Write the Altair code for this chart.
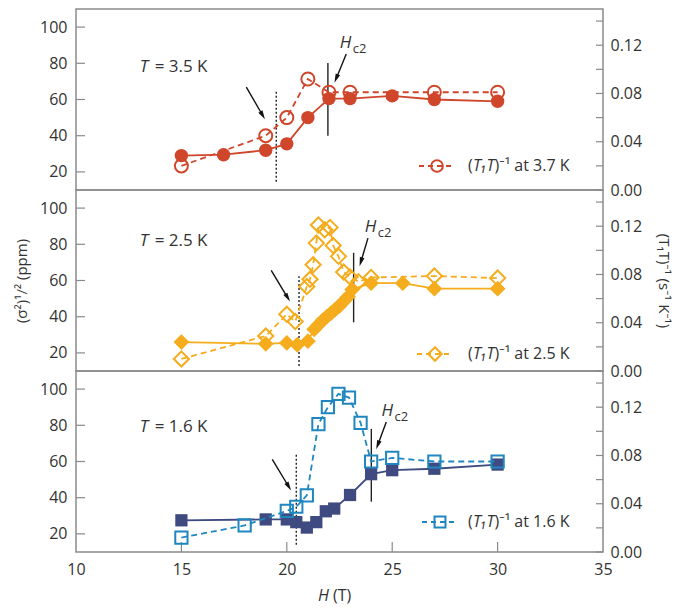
import math
import altair as alt
import pandas as pd

# ---------------- data ----------------
# Panel T = 3.5 K : (sigma^2)^1/2 (ppm) and (T1T)^-1 at 3.7 K
H35_SIG = [15, 17, 19, 20, 21, 22, 23, 25, 27, 30]
SIG35 = [29, 29.5, 32, 35.5, 50, 60.5, 60.5, 62, 60, 59]
H37_T1T = [15, 19, 20, 21, 22, 23, 27, 30]
T1T37 = [0.020, 0.045, 0.060, 0.092, 0.081, 0.081, 0.081, 0.081]

# Panel T = 2.5 K
H25_SIG = [15, 19, 20, 20.5, 21.0, 21.3, 21.5, 21.7, 21.9, 22.1, 22.3, 22.5,
           22.7, 22.9, 23.1, 24, 25.5, 27, 30]
SIG25 = [26, 25, 25.5, 24.5, 26.5, 33, 35.5, 38, 40, 42, 44, 46,
         48.5, 51, 55, 58.5, 58.5, 55.5, 55.5]
H25_T1T = [15, 19, 20, 20.4, 20.95, 21.1, 21.25, 21.4, 21.5, 21.8, 22.05, 22.2,
           22.45, 22.7, 23.0, 23.4, 24, 27, 30]
T1T25 = [0.010, 0.029, 0.047, 0.041, 0.070, 0.076, 0.088, 0.106, 0.121, 0.117, 0.119, 0.104,
         0.095, 0.082, 0.078, 0.074, 0.0775, 0.0787, 0.077]

# Panel T = 1.6 K
H16_SIG = [15, 19, 20, 20.45, 20.95, 21.4, 21.85, 22.25, 23, 24, 25, 27, 30]
SIG16 = [27.5, 28, 28, 26.5, 23.5, 26.5, 32.5, 34, 41.5, 53, 55.2, 56, 58.3]
H16_T1T = [15, 18, 20, 20.45, 20.95, 21.5, 21.95, 22.45, 22.95, 23.5, 24, 25, 27, 30]
T1T16 = [0.012, 0.022, 0.034, 0.0375, 0.047, 0.106, 0.120, 0.131, 0.128, 0.107,
         0.075, 0.078, 0.075, 0.075]

# tick values
X_TICKS = [10, 15, 20, 25, 30, 35]
L_TICKS = [20, 40, 60, 80, 100]
R_TICKS = [0.0, 0.02, 0.04, 0.06, 0.08, 0.10, 0.12, 0.14]

# annotation positions (data units: H in T, left axis in ppm)
ANN = {
    "3.5": dict(dotted=(19.5, 14.6, 64.7), solid=(21.95, 40.0, 80.2),
                arrows=[(18.08, 66.8, 18.95, 49.3), (22.82, 85.1, 22.27, 69.5)],
                hc2=(22.51, 88.4), tlab=(13.02, 75.0), tval="= 3.5 K",
                leg="at 3.7 K", leg_y=157, leg_x=361),
    "2.5": dict(dotted=(20.58, 12.8, 62.3), solid=(23.17, 36.9, 75.3),
                arrows=[(19.26, 65.6, 20.14, 48.6), (23.85, 83.4, 23.46, 68.2)],
                hc2=(23.70, 87.0), tlab=(13.02, 78.9), tval="= 2.5 K",
                leg="at 2.5 K", leg_y=164, leg_x=359),
    "1.6": dict(dotted=(20.45, 14.0, 64.3), solid=(24.01, 37.8, 78.0),
                arrows=[(19.31, 61.2, 20.19, 44.2), (24.72, 81.8, 24.25, 67.1)],
                hc2=(24.49, 85.3), tlab=(13.02, 76.5), tval="= 1.6 K",
                leg="at 1.6 K", leg_y=151, leg_x=364),
}

# ---------------- style ----------------
W, HGT = 527, 181
X_DOM = [10, 35]
L_DOM = [10, 110]
R_DOM = [0, 0.15]
SX = W / (X_DOM[1] - X_DOM[0])
SY = HGT / (L_DOM[1] - L_DOM[0])

RED = "#d0462b"
ORANGE = "#f5ac1d"
NAVY = "#3e4a80"
BLUE = "#1f86bf"
FONT = "Open Sans, Noto Sans, DejaVu Sans"
TXT = "#333333"
FRAME = "#8a8a8a"
ARROW_PATH = "M0,-1L0.5,0.9L-0.5,0.9Z"
ONE = pd.DataFrame({"a": [0]})


def xenc(field, show):
    if show:
        ax = alt.Axis(values=X_TICKS, ticks=False, domain=False, grid=False,
                      labelFlush=False, labelPadding=9, format="d")
    else:
        ax = None
    return alt.X(field, type="quantitative",
                 scale=alt.Scale(domain=X_DOM, nice=False, zero=False),
                 axis=ax, title=None)


def yl(field, title):
    return alt.Y(field, type="quantitative",
                 scale=alt.Scale(domain=L_DOM, nice=False, zero=False),
                 axis=alt.Axis(orient="left", values=L_TICKS, ticks=False, domain=False,
                               grid=False, labelPadding=9, titlePadding=10),
                 title=title)


def yr(field, title):
    return alt.Y(field, type="quantitative",
                 scale=alt.Scale(domain=R_DOM, nice=False, zero=False),
                 axis=alt.Axis(orient="right", values=R_TICKS, ticks=False, domain=False,
                               grid=False, labelPadding=7, titlePadding=14,
                               labelExpr="(round(datum.value*100) % 4 == 0) ? format(datum.value, '.2f') : ''"),
                 title=title)


def panel(key, h_sig, sig, h_t, t, col_f, col_o, shape, size_f, size_o,
          show_x, title_l, title_r):
    a = ANN[key]
    # ---- left-scale group ----
    dsig = pd.DataFrame({"H": h_sig, "S": sig})
    base = alt.Chart(dsig).encode(x=xenc("H", show_x), y=yl("S", title_l))
    sig_line = base.mark_line(color=col_f, strokeWidth=1.8)
    sig_pts = base.mark_point(filled=True, shape=shape, size=size_f, color=col_f,
                              opacity=1, strokeWidth=0)

    dv = pd.DataFrame({"x": [a["dotted"][0], a["solid"][0]],
                       "y1": [a["dotted"][1], a["solid"][1]],
                       "y2": [a["dotted"][2], a["solid"][2]],
                       "k": ["dot", "solid"]})
    dotted = alt.Chart(dv[dv.k == "dot"]).mark_rule(
        color="#222222", strokeWidth=1.4, strokeDash=[2, 2]).encode(
        x=xenc("x", show_x), y=yl("y1", title_l), y2="y2")
    solid = alt.Chart(dv[dv.k == "solid"]).mark_rule(
        color="#222222", strokeWidth=1.4).encode(
        x=xenc("x", show_x), y=yl("y1", title_l), y2="y2")

    rows = []
    for (x1, y1, x2, y2) in a["arrows"]:
        dxp = (x2 - x1) * SX
        dyp = -(y2 - y1) * SY
        L = math.hypot(dxp, dyp)
        ux, uy = dxp / L, dyp / L
        ang = math.degrees(math.atan2(dxp, -dyp)) % 360
        back = 4.2
        xh = x2 - ux * back / SX
        yh = y2 + uy * back / SY
        rows.append({"x1": x1, "y1": y1, "xh": xh, "yh": yh, "ang": ang})
    darr = pd.DataFrame(rows)
    shafts = alt.Chart(darr).mark_rule(color="#111111", strokeWidth=1.4).encode(
        x=xenc("x1", show_x), y=yl("y1", title_l), x2="xh", y2="yh")
    heads = alt.Chart(darr).mark_point(shape=ARROW_PATH, filled=True, color="#111111",
                                       size=90, opacity=1, strokeWidth=0).encode(
        x=xenc("xh", show_x), y=yl("yh", title_l),
        angle=alt.Angle("ang:Q", scale=None))

    dh = pd.DataFrame({"x": [a["hc2"][0]], "y": [a["hc2"][1]]})
    hc2_H = alt.Chart(dh).mark_text(align="left", baseline="alphabetic", fontSize=17,
                                    fontStyle="italic", color=TXT, font=FONT).encode(
        x=xenc("x", show_x), y=yl("y", title_l), text=alt.value("H"))
    hc2_s = alt.Chart(dh).mark_text(align="left", baseline="alphabetic", fontSize=13,
                                    dx=13, dy=5, color=TXT, font=FONT).encode(
        x=xenc("x", show_x), y=yl("y", title_l), text=alt.value("c2"))

    dt = pd.DataFrame({"x": [a["tlab"][0]], "y": [a["tlab"][1]]})
    t_it = alt.Chart(dt).mark_text(align="left", baseline="alphabetic", fontSize=17,
                                   fontStyle="italic", color=TXT, font=FONT).encode(
        x=xenc("x", show_x), y=yl("y", title_l), text=alt.value("T"))
    t_rest = alt.Chart(dt).mark_text(align="left", baseline="alphabetic", fontSize=17,
                                     dx=15, color=TXT, font=FONT).encode(
        x=xenc("x", show_x), y=yl("y", title_l), text=alt.value(a["tval"]))

    dlt = pd.DataFrame({"v": L_TICKS})
    lticks = alt.Chart(dlt).mark_rule(color=FRAME, strokeWidth=1.2).encode(
        y=yl("v", title_l), x=alt.value(0), x2=alt.value(9))

    left_layers = [lticks, dotted, solid, shafts, heads, hc2_H, hc2_s, t_it, t_rest,
                   sig_line, sig_pts]
    if show_x:
        dxt = pd.DataFrame({"v": X_TICKS[1:-1]})
        xticks = alt.Chart(dxt).mark_rule(color=FRAME, strokeWidth=1.2).encode(
            x=xenc("v", show_x), y=alt.value(HGT - 10), y2=alt.value(HGT))
        xt_H = alt.Chart(ONE).mark_text(align="left", baseline="alphabetic", fontSize=16,
                                        fontStyle="italic", color=TXT, font=FONT).encode(
            x=alt.value(242), y=alt.value(HGT + 49), text=alt.value("H"))
        xt_T = alt.Chart(ONE).mark_text(align="left", baseline="alphabetic", fontSize=16,
                                        color=TXT, font=FONT).encode(
            x=alt.value(257), y=alt.value(HGT + 49), text=alt.value("(T)"))
        left_layers = [xticks, xt_H, xt_T] + left_layers
    left = alt.layer(*left_layers)

    # ---- right-scale group ----
    dt1 = pd.DataFrame({"H": h_t, "R": t})
    rb = alt.Chart(dt1).encode(x=xenc("H", show_x), y=yr("R", title_r))
    r_line = rb.mark_line(color=col_o, strokeWidth=1.8, strokeDash=[6, 4])
    r_pts = rb.mark_point(filled=False, shape=shape, size=size_o, color=col_o,
                          strokeWidth=2, opacity=1)
    drt = pd.DataFrame({"v": R_TICKS})
    rticks = alt.Chart(drt).mark_rule(color=FRAME, strokeWidth=1.2).encode(
        y=yr("v", title_r), x=alt.value(W - 7), x2=alt.value(W))

    ly, lx = a["leg_y"], a["leg_x"]
    leg_line = alt.Chart(ONE).mark_rule(color=col_o, strokeWidth=1.8,
                                        strokeDash=[5, 4]).encode(
        x=alt.value(lx - 18), x2=alt.value(lx + 18), y=alt.value(ly))
    leg_pt = alt.Chart(ONE).mark_point(filled=False, shape=shape, size=size_o * 0.8,
                                       color=col_o, strokeWidth=2, opacity=1).encode(
        x=alt.value(lx), y=alt.value(ly))
    lt1 = alt.Chart(ONE).mark_text(align="left", baseline="middle", fontSize=16,
                                   color=TXT, font=FONT).encode(
        x=alt.value(392), y=alt.value(ly), text=alt.value("("))
    lt2 = alt.Chart(ONE).mark_text(align="left", baseline="middle", fontSize=16,
                                   fontStyle="italic", color=TXT, font=FONT).encode(
        x=alt.value(397), y=alt.value(ly), text=alt.value("T₁T"))
    lt3 = alt.Chart(ONE).mark_text(align="left", baseline="middle", fontSize=16,
                                   color=TXT, font=FONT).encode(
        x=alt.value(418.5), y=alt.value(ly), text=alt.value(")⁻¹ " + a["leg"]))

    right = alt.layer(rticks, r_line, r_pts, leg_line, leg_pt, lt1, lt2, lt3)

    return alt.layer(left, right).resolve_scale(y="independent").properties(
        width=W, height=HGT)


p1 = panel("3.5", H35_SIG, SIG35, H37_T1T, T1T37, RED, RED, "circle", 180, 170,
           False, None, None)
p2 = panel("2.5", H25_SIG, SIG25, H25_T1T, T1T25, ORANGE, ORANGE, "diamond", 250, 230,
           False, "(σ²)¹/² (ppm)", "(T₁T)⁻¹ (s⁻¹ K⁻¹)")
p3 = panel("1.6", H16_SIG, SIG16, H16_T1T, T1T16, NAVY, BLUE, "square", 150, 150,
           True, None, None)

chart = alt.vconcat(p1, p2, p3, spacing=0, bounds="flush").properties(
    padding={"left": 5, "top": 0, "right": 2, "bottom": 0}
).configure_view(
    stroke=FRAME, strokeWidth=1.5
).configure_axis(
    labelFont=FONT, labelFontSize=16, labelColor=TXT,
    titleFont=FONT, titleFontSize=15, titleColor=TXT, titleFontWeight="normal"
)

chart.save("out.html", embed_options={"renderer": "svg", "actions": False})
